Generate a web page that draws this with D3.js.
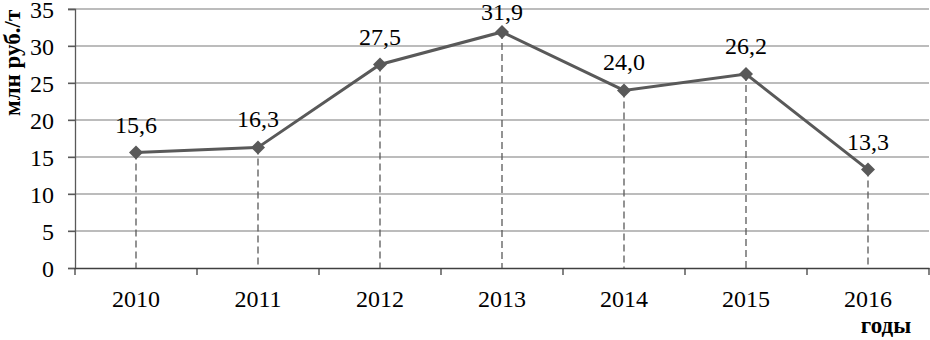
<!DOCTYPE html>
<html><head><meta charset="utf-8">
<script src="https://cdn.jsdelivr.net/npm/d3@7"></script>
<style>body{margin:0;background:#fff}svg{display:block}</style>
</head><body>
<svg id="c" width="930" height="340" font-family="Liberation Serif"></svg>
<script>
const years = ["2010","2011","2012","2013","2014","2015","2016"];
const values = [15.6,16.3,27.5,31.9,24.0,26.2,13.3];
const labels = ["15,6","16,3","27,5","31,9","24,0","26,2","13,3"];
const yTicks = [0,5,10,15,20,25,30,35];

(function(){
const FONT = "Liberation Serif";
const svg = d3.select("#c");
const mLeft = 75, mRight = 929, mTop = 9, mBottom = 268;
const x = d3.scaleBand().domain(years).range([mLeft, mRight]);
const y = d3.scaleLinear().domain([0,35]).range([mBottom, mTop]);

// gridlines
svg.append("g").selectAll("line").data(yTicks.filter(d=>d>0)).join("line")
  .attr("x1", mLeft-7).attr("x2", mRight).attr("y1", d=>y(d)).attr("y2", d=>y(d))
  .attr("stroke", "#a6a6a6").attr("stroke-width", 1.3);

// y axis
const ya = svg.append("g").attr("transform", `translate(${mLeft},0)`)
  .call(d3.axisLeft(y).tickValues(yTicks).tickSize(7).tickPadding(14).tickFormat(d=>d));
ya.attr("font-family", FONT);
ya.select(".domain").attr("stroke", "#595959").attr("stroke-width", 1.3);
ya.selectAll(".tick line").attr("stroke", "#595959").attr("stroke-width", 1.3);
ya.selectAll("text").attr("font-size", 24).attr("fill", "#000").attr("dy", "0.34em");

// x axis
const xa = svg.append("g").attr("transform", `translate(0,${mBottom})`)
  .call(d3.axisBottom(x).tickSize(0).tickPadding(0));
xa.attr("font-family", FONT);
xa.select(".domain").attr("stroke", "#404040").attr("stroke-width", 1.5);
xa.selectAll("text").attr("font-size", 24).attr("fill", "#000").attr("dy", null).attr("y", 39);
const bounds = years.map(d => x(d)).concat([mRight]);
xa.append("g").selectAll("line").data(bounds).join("line")
  .attr("x1", d=>d).attr("x2", d=>d).attr("y1", 0).attr("y2", 7)
  .attr("stroke", "#404040").attr("stroke-width", 1.3);

const cx = d => x(d) + x.bandwidth()/2;

// drop lines
svg.append("g").selectAll("line").data(years).join("line")
  .attr("x1", d=>cx(d)).attr("x2", d=>cx(d))
  .attr("y1", (d,i)=>y(values[i])).attr("y2", mBottom)
  .attr("stroke", "#595959").attr("stroke-width", 1.3).attr("stroke-dasharray", "7,4");

// line
svg.append("path").datum(values)
  .attr("d", d3.line().x((d,i)=>cx(years[i])).y(d=>y(d)))
  .attr("fill", "none").attr("stroke", "#595959").attr("stroke-width", 3);

// markers
svg.append("g").selectAll("path").data(values).join("path")
  .attr("transform", (d,i)=>`translate(${cx(years[i])},${y(d)})`)
  .attr("d", d3.symbol(d3.symbolDiamond2, 125)())
  .attr("fill", "#595959");

// labels
svg.append("g").selectAll("text").data(values).join("text")
  .attr("x", (d,i)=>cx(years[i])).attr("y", d=>Math.max(y(d)-20, 20))
  .attr("text-anchor", "middle").attr("font-size", 24).attr("fill", "#000")
  .attr("font-family", FONT)
  .text((d,i)=>labels[i]);

// axis titles
svg.append("text").attr("transform", "translate(20,116) rotate(-90)")
  .attr("font-family", FONT)
  .attr("font-size", 23).attr("font-weight", "bold").text("млн руб./т");
svg.append("text").attr("x", 886).attr("y", 333).attr("text-anchor", "middle")
  .attr("font-family", FONT)
  .attr("font-size", 23).attr("font-weight", "bold").text("годы");
})();
</script>
</body></html>
